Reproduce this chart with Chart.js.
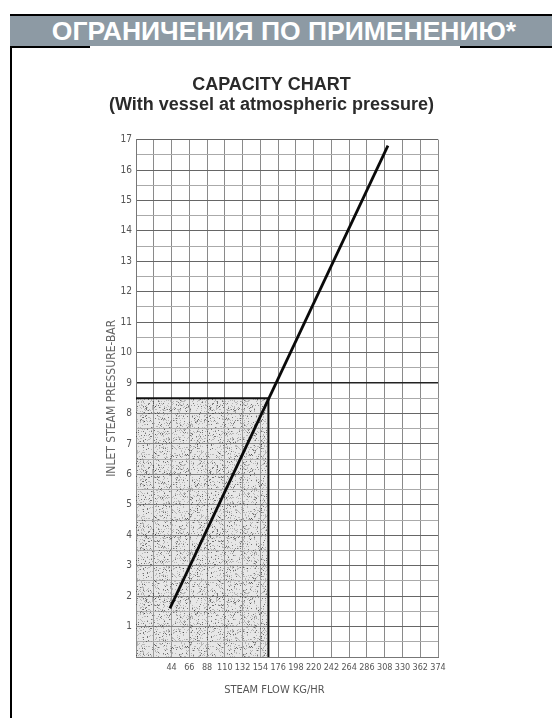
<!DOCTYPE html>
<html>
<head>
<meta charset="utf-8">
<script src="https://cdn.jsdelivr.net/npm/chart.js@4.4.1/dist/chart.umd.min.js"></script>
<style>
  html, body { margin: 0; padding: 0; background: #fff; }
  body { width: 552px; height: 718px; position: relative; overflow: hidden; font-family: 'Liberation Sans', Arial, sans-serif; }
  .frame-left { position: absolute; left: 10px; top: 14px; width: 2px; height: 704px; background: #000; }
  .header { position: absolute; left: 10px; top: 14px; width: 542px; height: 30px; background: #8d9aa4; border-top: 2px solid #000; color: #fff; font-weight: bold; font-size: 26.5px; line-height: 31px; text-align: center; text-indent: 6px; white-space: nowrap; }
  .rule { position: absolute; top: 46px; height: 2px; background: #000; }
  #wrap { position: absolute; left: 0; top: 0; width: 552px; height: 718px; }
</style>
</head>
<body>
<div id="wrap"><canvas id="chart-capacity"></canvas></div>
<div class="frame-left"></div>
<div class="header">ОГРАНИЧЕНИЯ ПО ПРИМЕНЕНИЮ*</div>
<div class="rule" style="left:10px;width:80px"></div>
<div class="rule" style="left:460px;width:92px"></div>
<script>
// ------------------------------------------------------------
// Capacity chart — steam flow vs inlet pressure
// ------------------------------------------------------------

const xTickLabels = ['44', '66', '88', '110', '132', '154', '176', '198', '220', '242', '264', '286', '308', '330', '362', '374'];
const flowLine = [42, 312];          // kg/hr, ends of the capacity line
const pressureLine = [1.6, 16.8];    // bar
const limitFlow = [0, 164];          // shaded area, flow range
const limitPressure = [8.5, 8.5];    // shaded area, pressure top

const axisFamily = "'Liberation Sans Narrow', 'DejaVu Sans Condensed', sans-serif";

// stipple texture for the limit area
function hash(n) {
  n = Math.imul(n ^ (n >>> 16), 0x45d9f3b);
  n = Math.imul(n ^ (n >>> 16), 0x45d9f3b);
  return (n ^ (n >>> 16)) >>> 0;
}

function makeStipple() {
  const c = document.createElement('canvas');
  c.width = 64; c.height = 64;
  const g = c.getContext('2d');
  g.fillStyle = 'rgba(185,185,185,0.35)';
  g.fillRect(0, 0, 64, 64);
  for (let i = 0; i < 900; i++) {
    const h = hash(i * 2654435761 + 17);
    const px = h % 64;
    const py = (h >>> 8) % 64;
    g.fillStyle = (h >>> 20) % 4 === 0 ? 'rgba(50,50,50,0.65)' : 'rgba(135,135,135,0.5)';
    g.fillRect(px, py, 1, 1);
  }
  return g.createPattern(c, 'repeat');
}

const ctx = document.getElementById('chart-capacity');
new Chart(ctx, {
  type: 'line',
  data: {
    datasets: [
      {
        data: limitFlow.map((x, i) => ({ x, y: limitPressure[i] })),
        borderColor: '#111',
        borderWidth: 2,
        backgroundColor: makeStipple(),
        fill: 'origin',
        pointRadius: 0,
        order: 3,
      },
      {
        data: [{ x: limitFlow[1], y: 0 }, { x: limitFlow[1], y: limitPressure[1] }],
        borderColor: '#111',
        borderWidth: 2,
        pointRadius: 0,
        fill: false,
        order: 2,
      },
      {
        data: flowLine.map((x, i) => ({ x, y: pressureLine[i] })),
        borderColor: '#0a0a0a',
        borderWidth: 2.8,
        pointRadius: 0,
        fill: false,
        order: 0,
      },
    ]
  },
  options: {
    responsive: true,
    maintainAspectRatio: false,
    animation: false,
    events: [],
    layout: { padding: { left: 105, right: 114, top: 0, bottom: 21 } },
    plugins: {
      legend: { display: false },
      tooltip: { enabled: false },
      title: {
        display: true,
        text: ['CAPACITY CHART', '(With vessel at atmospheric pressure)'],
        color: '#2a2a2a',
        font: { family: "'Liberation Sans', Arial, sans-serif", size: 18, weight: 'bold', lineHeight: 1.1 },
        padding: { top: 75, bottom: 25 },
      }
    },
    scales: {
      x: {
        type: 'linear',
        min: 0,
        max: 374,
        afterFit: s => { s.height = 40; },
        ticks: {
          stepSize: 22,
          autoSkip: false,
          maxRotation: 0,
          padding: 5,
          color: '#555',
          font: { family: axisFamily, size: 9 },
          callback: v => v >= 44 ? xTickLabels[Math.round((v - 44) / 22)] : '',
        },
        grid: { drawTicks: false, color: '#8a8a8a', lineWidth: 1 },
        border: { color: '#777' },
        title: { display: true, text: 'STEAM FLOW KG/HR        ', color: '#555', font: { family: axisFamily, size: 11 }, padding: { top: 4, bottom: 0 } },
      },
      y: {
        min: 0,
        max: 17,
        afterFit: s => { s.width = 31; },
        ticks: {
          stepSize: 0.5,
          autoSkip: false,
          padding: 4,
          color: '#555',
          font: { family: axisFamily, size: 10 },
          callback: v => (Number.isInteger(v) && v > 0) ? v : '',
        },
        grid: {
          drawTicks: false,
          color: c => c.tick.value === 9 ? '#222' : (Number.isInteger(c.tick.value) ? '#666' : '#aaa'),
          lineWidth: c => c.tick.value === 9 ? 1.6 : 1,
        },
        border: { color: '#777' },
        title: { display: true, text: 'INLET STEAM PRESSURE-BAR', color: '#666', font: { family: axisFamily, size: 12 }, padding: { top: 0, bottom: 0 } },
      }
    }
  }
});
</script>
</body>
</html>
